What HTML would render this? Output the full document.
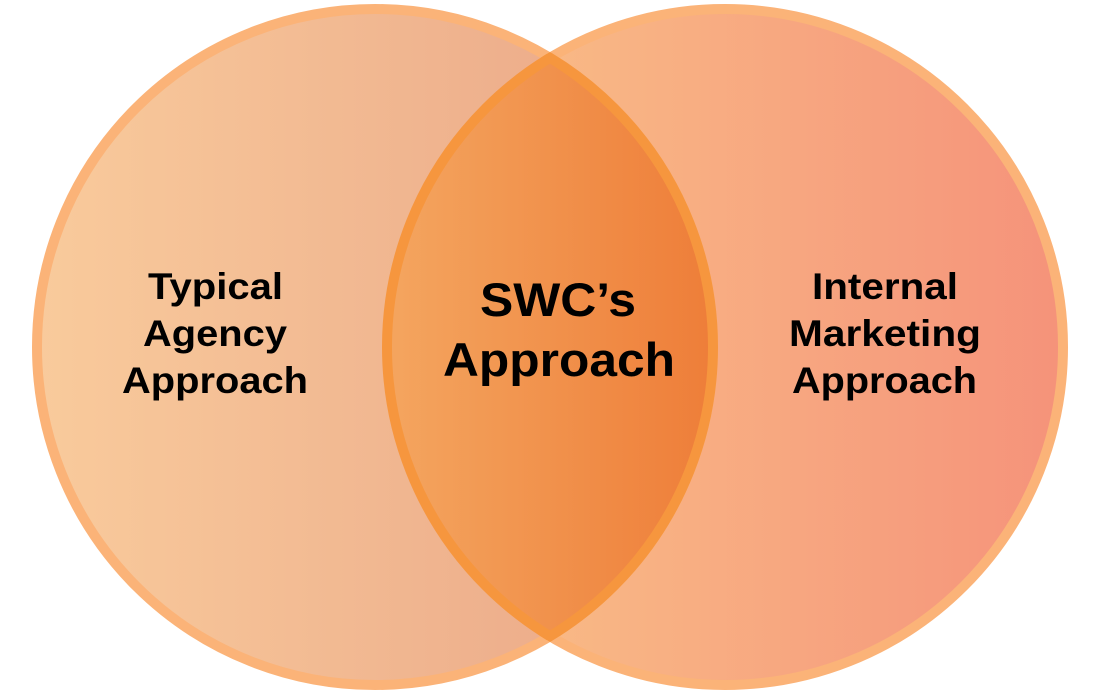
<!DOCTYPE html>
<html><head><style>html,body{margin:0;padding:0;background:#fff;width:1100px;height:700px;overflow:hidden}</style></head>
<body>
<svg width="1100" height="700" viewBox="0 0 1100 700" xmlns="http://www.w3.org/2000/svg">
<defs>
<linearGradient id="gl" x1="32" x2="718" y1="0" y2="0" gradientUnits="userSpaceOnUse">
<stop offset="0" stop-color="#f9cb9c"/><stop offset="1" stop-color="#e9a486"/></linearGradient>
<linearGradient id="gr" x1="382" x2="1068" y1="0" y2="0" gradientUnits="userSpaceOnUse">
<stop offset="0" stop-color="#fac589"/><stop offset="1" stop-color="#f5927a"/></linearGradient>
<linearGradient id="gm" x1="382" x2="718" y1="0" y2="0" gradientUnits="userSpaceOnUse">
<stop offset="0" stop-color="#f4a660"/><stop offset="1" stop-color="#ee7d38"/></linearGradient>
<clipPath id="cl"><circle cx="375" cy="347" r="340"/></clipPath>
<clipPath id="cr"><circle cx="725" cy="347" r="343"/></clipPath>
</defs>
<circle cx="725" cy="347" r="338" fill="url(#gr)" stroke="#fbb378" stroke-width="10"/>
<circle cx="375" cy="347" r="338" fill="url(#gl)" stroke="#fbb378" stroke-width="10"/>
<circle cx="725" cy="347" r="338" fill="url(#gm)" clip-path="url(#cl)"/>
<circle cx="725" cy="347" r="338" fill="none" stroke="#f6963e" stroke-width="10" clip-path="url(#cl)"/>
<circle cx="375" cy="347" r="338" fill="none" stroke="#f6963e" stroke-width="10" clip-path="url(#cr)"/>
<g font-family="Liberation Sans, sans-serif" font-weight="bold" fill="#000">
<text x="148" y="299" font-size="37" textLength="135" lengthAdjust="spacingAndGlyphs">Typical</text>
<text x="143" y="346" font-size="37" textLength="144" lengthAdjust="spacingAndGlyphs">Agency</text>
<text x="122" y="393" font-size="37" textLength="186" lengthAdjust="spacingAndGlyphs">Approach</text>
<text x="812" y="299" font-size="37" textLength="146" lengthAdjust="spacingAndGlyphs">Internal</text>
<text x="789" y="346" font-size="37" textLength="192" lengthAdjust="spacingAndGlyphs">Marketing</text>
<text x="792" y="393" font-size="37" textLength="185" lengthAdjust="spacingAndGlyphs">Approach</text>
<text x="480" y="316" font-size="47" textLength="156" lengthAdjust="spacingAndGlyphs">SWC’s</text>
<text x="443" y="376" font-size="47" textLength="232" lengthAdjust="spacingAndGlyphs">Approach</text>
</g>
</svg>
</body></html>
